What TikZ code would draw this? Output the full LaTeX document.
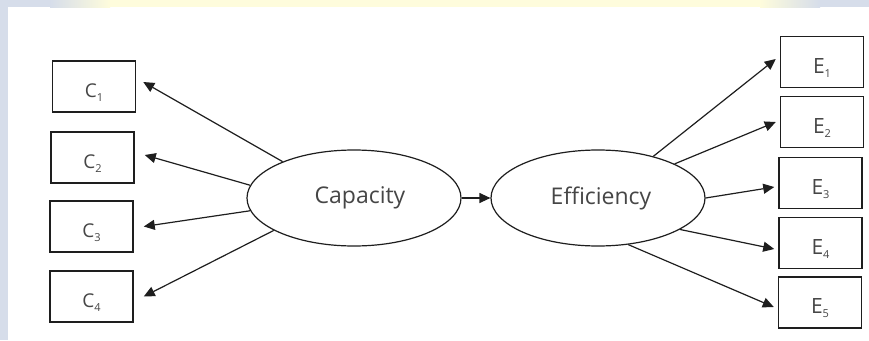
\documentclass[tikz,border=0pt]{standalone}
\usepackage{fontspec}
\setmainfont{Open Sans}
\usetikzlibrary{arrows.meta,shapes.geometric}
\definecolor{bgblue}{RGB}{214,221,234}
\definecolor{bgyellow}{RGB}{254,252,220}
\definecolor{txt}{RGB}{70,70,70}
\definecolor{ln}{RGB}{30,30,30}
\tikzset{
  obs/.style={draw=ln, line width=1.5pt, minimum width=83pt, minimum height=51pt, inner sep=0pt, text=txt},
  lat/.style={ellipse, draw=ln, line width=1.2pt, minimum width=214pt, minimum height=96pt, inner sep=0pt, text=txt, font=\fontsize{23}{23}\selectfont},
  arr/.style={draw=ln, line width=1.2pt, -{Triangle[length=11pt,width=10pt]}},
}
% #1 size, #2 letter, #3 index
\newcommand{\obslab}[3]{\raisebox{-11pt}[0pt][0pt]{\fontsize{#1}{#1}\selectfont #2\raisebox{-4pt}{\fontsize{11}{11}\selectfont #3}}}
\begin{document}
\begin{tikzpicture}[x=1pt,y=-1pt]
  \useasboundingbox (0,0) rectangle (869,340);
  \fill[white] (0,0) rectangle (869,340);
  \fill[bgblue] (0,0) rectangle (8,340);
  \fill[bgblue] (0,0) rectangle (50,7);
  \shade[left color=bgblue, right color=bgyellow] (50,0) rectangle (110,7);
  \fill[bgyellow] (110,0) rectangle (760,7);
  \shade[left color=bgyellow, right color=bgblue] (760,0) rectangle (820,7);
  \fill[bgblue] (820,0) rectangle (869,7);

  % observed indicators
  \node[obs] (c1) at (94,86.5) {\obslab{19}{C}{1}};
  \node[obs] (c2) at (92.5,157.5) {\obslab{19}{C}{2}};
  \node[obs] (c3) at (91.5,226.5) {\obslab{19}{C}{3}};
  \node[obs] (c4) at (91.5,296.5) {\obslab{19}{C}{4}};
  \node[obs] (e1) at (822,62) {\obslab{21}{E}{1}};
  \node[obs] (e2) at (822,122) {\obslab{21}{E}{2}};
  \node[obs] (e3) at (820.5,183) {\obslab{21}{E}{3}};
  \node[obs] (e4) at (820.5,243) {\obslab{21}{E}{4}};
  \node[obs] (e5) at (820,302.5) {\obslab{21}{E}{5}};

  % latent variables
  \node[lat] (cap) at (354,198) {\hspace*{12pt}Capacity};
  \node[lat] (eff) at (598,198) {\hspace*{6pt}Efficiency};

  % connectors
  \draw[arr] (cap.153) -- ([xshift=7pt,yshift=4.5pt]c1.east);
  \draw[arr] (cap.173.5) -- ([xshift=10pt,yshift=2.5pt]c2.east);
  \draw[arr] (cap.187.7) -- ([xshift=10pt]c3.east);
  \draw[arr] (cap.202.8) -- ([xshift=10pt]c4.east);
  \draw[arr] (cap.east) -- (eff.west);
  \draw[arr] (eff.37.9) -- ([xshift=-4pt,yshift=3pt]e1.west);
  \draw[arr] (eff.24.4) -- ([xshift=-4pt]e2.west);
  \draw[arr] (eff.0) -- ([xshift=-4pt,yshift=-4pt]e3.west);
  \draw[arr] (eff.-21.3) -- ([xshift=-4pt,yshift=-6pt]e4.west);
  \draw[arr] (eff.-57.4) -- ([xshift=-4pt,yshift=-4.5pt]e5.west);
\end{tikzpicture}
\end{document}
